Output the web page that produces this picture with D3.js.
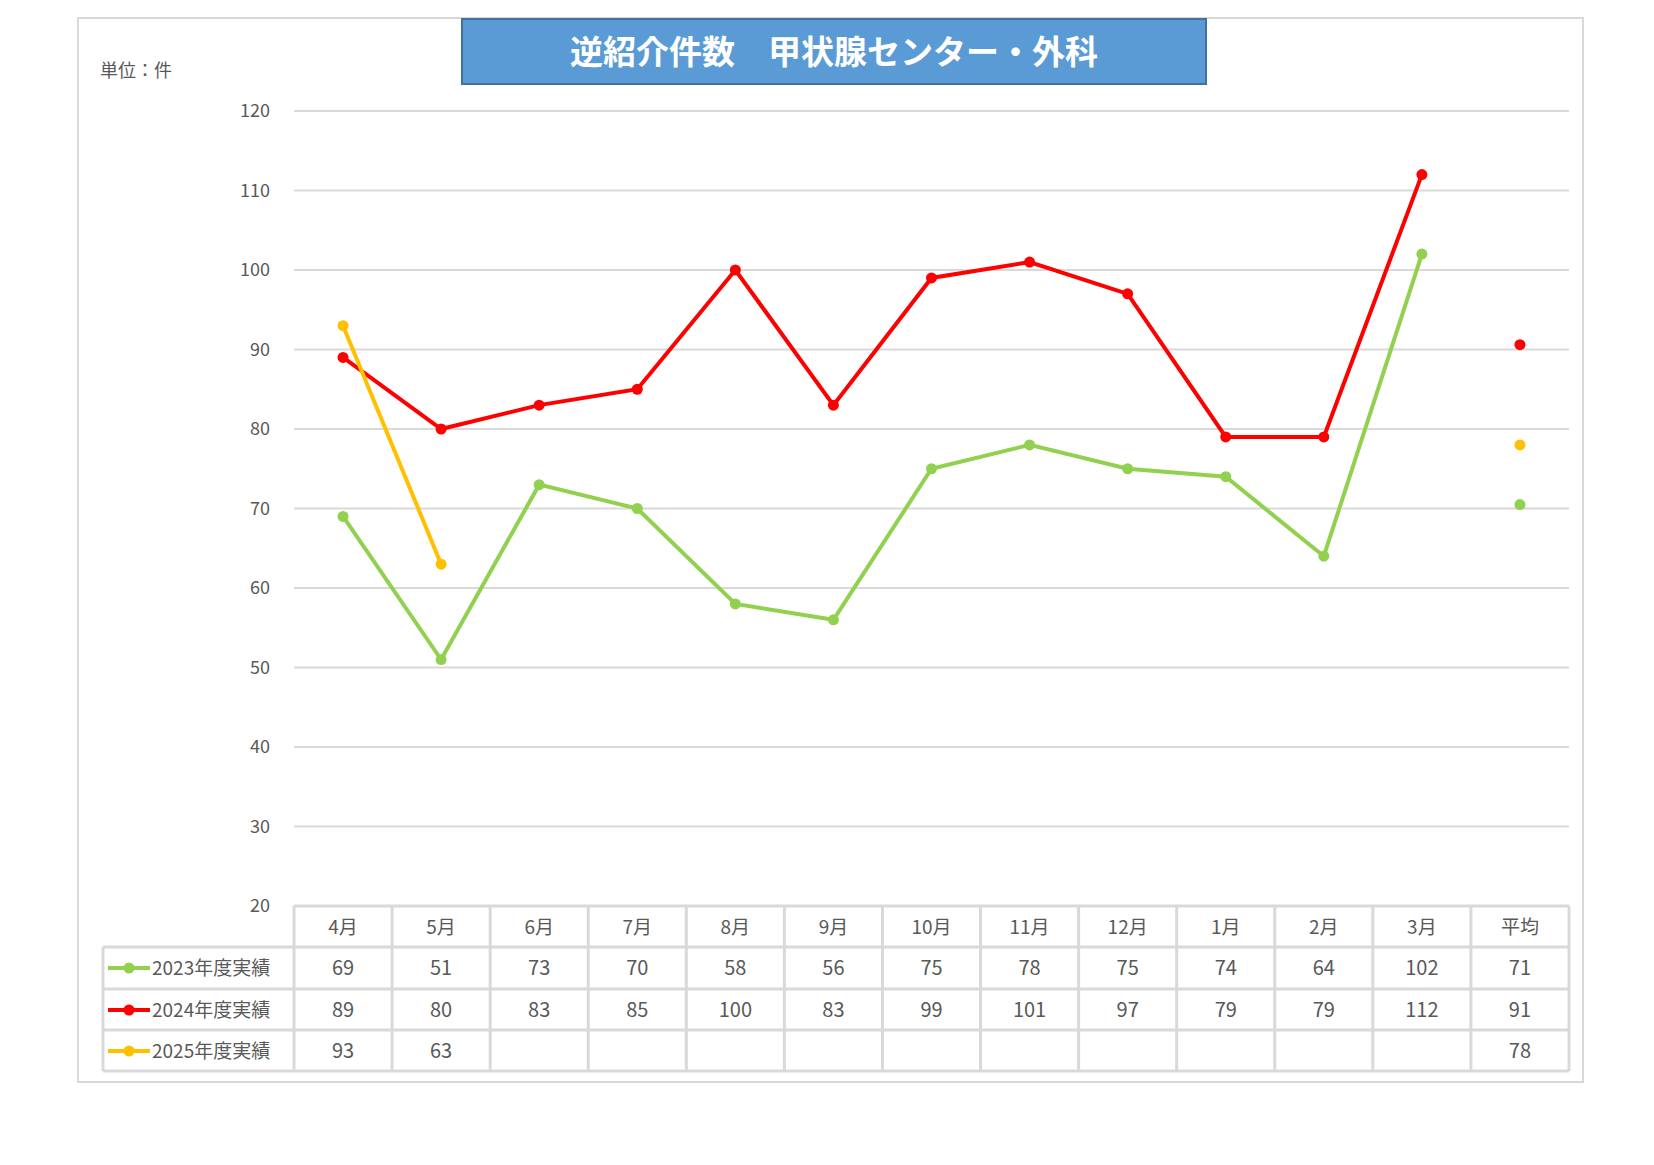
<!DOCTYPE html>
<html><head><meta charset="utf-8">
<script src="https://cdn.jsdelivr.net/npm/d3@7"></script>
<style>body{margin:0;background:#fff}svg{display:block}</style>
</head><body><svg id="c" width="1654" height="1165"></svg>
<script>
const categories=["4月","5月","6月","7月","8月","9月","10月","11月","12月","1月","2月","3月"];
const avgLabel="平均";
const seriesNames=["2023年度実績","2024年度実績","2025年度実績"];
const colors=["#92D050","#FF0000","#FFC000"];
const s2023=[69,51,73,70,58,56,75,78,75,74,64,102];
const s2024=[89,80,83,85,100,83,99,101,97,79,79,112];
const s2025=[93,63];
const averages=[70.5,90.6,78];
const yTicks=[20,30,40,50,60,70,80,90,100,110,120];
const series=[s2023,s2024,s2025];
const font="'Noto Sans CJK JP','Noto Sans',sans-serif";
const svg=d3.select("#c");
svg.append("rect").attr("x",78).attr("y",18).attr("width",1505).attr("height",1064).attr("fill","#fff").attr("stroke","#d9d9d9").attr("stroke-width",2);
const cols=[...categories,avgLabel];
const x=d3.scaleBand().domain(cols).range([294,1569]);
const y=d3.scaleLinear().domain([20,120]).range([906,111]);
const g=svg.append("g");
yTicks.forEach(t=>{
 if(t>20)g.append("line").attr("x1",294).attr("x2",1569).attr("y1",y(t)).attr("y2",y(t)).attr("stroke","#d9d9d9").attr("stroke-width",2);
 g.append("text").attr("x",270).attr("y",y(t)+6).attr("text-anchor","end").attr("font-family",font).attr("font-size",18).attr("fill","#595959").text(t);
});
// title
svg.append("rect").attr("x",462).attr("y",19).attr("width",744).attr("height",65).attr("fill","#5B9BD5").attr("stroke","#41719C").attr("stroke-width",2);
svg.append("text").attr("x",834).attr("y",64).attr("text-anchor","middle").attr("font-family",font).attr("font-weight","bold").attr("font-size",33).attr("fill","#fff").text("逆紹介件数　甲状腺センター・外科");
svg.append("text").attr("x",100).attr("y",77).attr("font-family",font).attr("font-size",18).attr("fill","#595959").text("単位：件");
// lines
const cx=c=>x(c)+x.bandwidth()/2;
series.forEach((s,i)=>{
 const pts=s.map((v,j)=>[cx(categories[j]),y(v)]);
 g.append("path").attr("d",d3.line()(pts)).attr("fill","none").attr("stroke",colors[i]).attr("stroke-width",4);
 pts.forEach(p=>g.append("circle").attr("cx",p[0]).attr("cy",p[1]).attr("r",5.5).attr("fill",colors[i]));
 g.append("circle").attr("cx",cx(avgLabel)).attr("cy",y(averages[i])).attr("r",5.5).attr("fill",colors[i]);
});
// table
const rowY=[906,947,989,1030,1071];
const lc="#d9d9d9";
const tg=svg.append("g");
tg.append("line").attr("x1",294).attr("x2",1569).attr("y1",906).attr("y2",906).attr("stroke",lc).attr("stroke-width",3);
for(let r=1;r<5;r++)tg.append("line").attr("x1",103).attr("x2",1569).attr("y1",rowY[r]).attr("y2",rowY[r]).attr("stroke",lc).attr("stroke-width",3);
tg.append("line").attr("x1",103).attr("x2",103).attr("y1",947).attr("y2",1071).attr("stroke",lc).attr("stroke-width",3);
cols.forEach(c=>tg.append("line").attr("x1",x(c)).attr("x2",x(c)).attr("y1",906).attr("y2",1071).attr("stroke",lc).attr("stroke-width",3));
tg.append("line").attr("x1",1569).attr("x2",1569).attr("y1",906).attr("y2",1071).attr("stroke",lc).attr("stroke-width",3);
cols.forEach(c=>tg.append("text").attr("x",cx(c)).attr("y",934).attr("text-anchor","middle").attr("font-family",font).attr("font-size",19).attr("fill","#595959").text(c));
series.forEach((s,i)=>{
 const ty=rowY[i+1]+28;
 tg.append("line").attr("x1",108).attr("x2",150).attr("y1",ty-7).attr("y2",ty-7).attr("stroke",colors[i]).attr("stroke-width",4);
 tg.append("circle").attr("cx",129).attr("cy",ty-7).attr("r",5.5).attr("fill",colors[i]);
 tg.append("text").attr("x",152).attr("y",ty).attr("font-family",font).attr("font-size",19).attr("fill","#595959").text(seriesNames[i]);
 s.forEach((v,j)=>tg.append("text").attr("x",cx(categories[j])).attr("y",ty).attr("text-anchor","middle").attr("font-family",font).attr("font-size",20).attr("fill","#595959").text(v));
 tg.append("text").attr("x",cx(avgLabel)).attr("y",ty).attr("text-anchor","middle").attr("font-family",font).attr("font-size",20).attr("fill","#595959").text(Math.round(averages[i]));
});
</script></body></html>
